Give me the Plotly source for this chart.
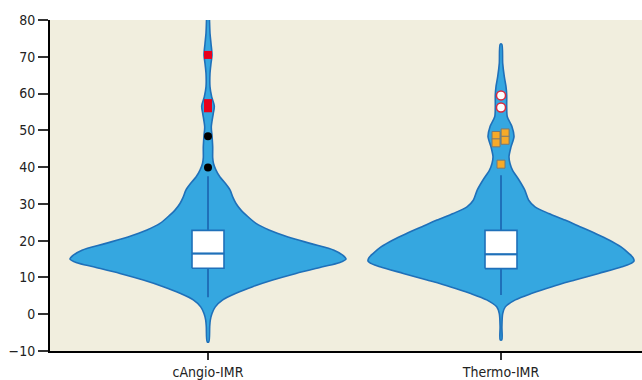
import plotly.graph_objects as go

# ---- data ---------------------------------------------------------------
categories = ["cAngio-IMR", "Thermo-IMR"]
y_tick_vals = [-10, 0, 10, 20, 30, 40, 50, 60, 70, 80]

# kernel density outline: IMR level -> half-width (pixels at full scale)
angio_levels = [-7.5, -3.4, -1.6, 0.2, 2.0, 3.9, 5.7, 7.5, 9.3, 11.1, 12.9, 14.0,
                15.0, 16.0, 17.4, 19.2, 21.0, 22.9, 24.7, 26.5, 28.3, 30.1, 31.9,
                33.8, 35.6, 37.3, 39.2, 41.0, 42.5, 45.5, 48.6, 50.9, 54.6, 56.6,
                59.1, 61.8, 65.5, 68.2, 70.5, 73.6, 76.4, 80.0, 83.0]
angio_density = [0.8, 1.7, 2.3, 4.0, 7.3, 14.7, 28.0, 44.7, 64.7, 88.0, 114.7, 131.0,
                 138.0, 135.0, 126.0, 103.0, 80.0, 61.0, 48.0, 40.0, 33.0, 28.0, 24.7,
                 22.0, 17.3, 12.0, 8.0, 5.5, 4.7, 4.7, 4.0, 3.3, 5.3, 6.3,
                 3.7, 2.0, 2.0, 3.0, 4.0, 3.0, 2.0, 1.5, 1.2]

thermo_levels = [-7.0, -3.4, 0.2, 2.0, 3.9, 5.7, 7.5, 9.3, 11.1, 12.9, 13.7, 14.5,
                 15.4, 16.5, 18.3, 20.2, 22.0, 23.8, 25.6, 27.4, 29.2, 31.0, 33.8,
                 36.5, 39.2, 41.0, 42.8, 45.5, 48.3, 51.0, 53.7, 56.3, 59.6, 61.9,
                 64.6, 68.2, 73.4]
thermo_density = [0.8, 0.9, 1.7, 4.3, 14.3, 31.0, 51.0, 74.0, 97.7, 121.0, 129.0, 133.0,
                  132.0, 128.0, 120.0, 108.0, 94.0, 79.0, 64.0, 47.7, 34.0, 27.7, 23.7,
                  18.0, 11.5, 9.0, 8.0, 10.0, 13.0, 11.0, 6.3, 5.7, 5.7, 5.0,
                  3.3, 1.7, 0.8]

# box summaries: lower whisker, Q1, median, Q3, upper whisker
lower_whisker = [4.6, 5.2]
q1 = [12.5, 12.4]
median = [16.5, 16.3]
q3 = [22.8, 22.8]
upper_whisker = [37.5, 37.8]

# outlying observations
angio_extreme = [70.5, 56.0, 57.4]          # red squares
angio_mild = [48.4, 39.9]                   # black dots
thermo_extreme = [59.5, 56.2]               # open circles
thermo_mild = [48.6, 46.6, 49.3, 47.3, 40.8]  # orange squares
thermo_mild_jitter = [-0.017, -0.017, 0.014, 0.014, 0.0]

# ---- styling ------------------------------------------------------------
PX_PER_CAT = 293.0
BOX_HALF = 16 / PX_PER_CAT
FILL = "rgb(53,167,224)"
EDGE = "rgb(31,112,185)"
BG = "rgb(241,238,222)"
FONT = "DejaVu Sans Condensed, Liberation Sans Narrow, sans-serif"

fig = go.Figure()


def violin_outline(center, levels, density):
    half = [d / PX_PER_CAT for d in density]
    xs = [center + h for h in half] + [center - h for h in reversed(half)]
    ys = list(levels) + list(reversed(levels))
    xs.append(xs[0])
    ys.append(ys[0])
    return xs, ys


for i, (lv, dn) in enumerate([(angio_levels, angio_density),
                              (thermo_levels, thermo_density)]):
    xs, ys = violin_outline(i, lv, dn)
    fig.add_trace(go.Scatter(
        x=xs, y=ys, mode="lines", fill="toself", fillcolor=FILL,
        line=dict(color=EDGE, width=1.6, shape="spline", smoothing=0.8),
        hoverinfo="skip", showlegend=False))

# box-and-whisker drawn on top of each violin
for i in range(len(categories)):
    fig.add_trace(go.Scatter(
        x=[i, i, None, i, i],
        y=[lower_whisker[i], q1[i], None, q3[i], upper_whisker[i]],
        mode="lines", line=dict(color=EDGE, width=2),
        hoverinfo="skip", showlegend=False))
    fig.add_trace(go.Scatter(
        x=[i - BOX_HALF, i + BOX_HALF, i + BOX_HALF, i - BOX_HALF, i - BOX_HALF],
        y=[q1[i], q1[i], q3[i], q3[i], q1[i]],
        mode="lines", fill="toself", fillcolor="white",
        line=dict(color=EDGE, width=1.6),
        hoverinfo="skip", showlegend=False))
    fig.add_trace(go.Scatter(
        x=[i - BOX_HALF, i + BOX_HALF], y=[median[i], median[i]],
        mode="lines", line=dict(color=EDGE, width=2.2),
        hoverinfo="skip", showlegend=False))

fig.add_trace(go.Scatter(
    x=[0] * len(angio_extreme), y=angio_extreme, mode="markers",
    marker=dict(symbol="square", size=8, color="rgb(232,0,28)"),
    showlegend=False))
fig.add_trace(go.Scatter(
    x=[0] * len(angio_mild), y=angio_mild, mode="markers",
    marker=dict(symbol="circle", size=8, color="black"),
    showlegend=False))
fig.add_trace(go.Scatter(
    x=[1] * len(thermo_extreme), y=thermo_extreme, mode="markers",
    marker=dict(symbol="circle", size=9, color="white",
                line=dict(color="rgb(220,40,60)", width=1.5)),
    showlegend=False))
fig.add_trace(go.Scatter(
    x=[1 + j for j in thermo_mild_jitter], y=thermo_mild, mode="markers",
    marker=dict(symbol="square", size=8, color="rgb(247,170,40)",
                line=dict(color="rgb(120,120,115)", width=1)),
    showlegend=False))

fig.update_layout(
    width=642, height=380,
    margin=dict(l=50, r=0, t=20, b=29),
    paper_bgcolor="white", plot_bgcolor=BG,
    font=dict(family=FONT, size=14, color="#222"),
    showlegend=False,
    xaxis=dict(range=[-158 / PX_PER_CAT, 434 / PX_PER_CAT],
               tickvals=[0, 1], ticktext=categories,
               showgrid=False, zeroline=False, automargin=False,
               showline=True, linecolor="black", linewidth=2,
               ticks="outside", ticklen=7, tickcolor="#333", tickwidth=1.5),
    yaxis=dict(range=[-10, 80], tickvals=y_tick_vals,
               showgrid=False, zeroline=False, automargin=False,
               showline=True, linecolor="black", linewidth=2,
               ticks="outside", ticklen=10, tickcolor="#333", tickwidth=1.5),
)

fig.write_html("out.html")
